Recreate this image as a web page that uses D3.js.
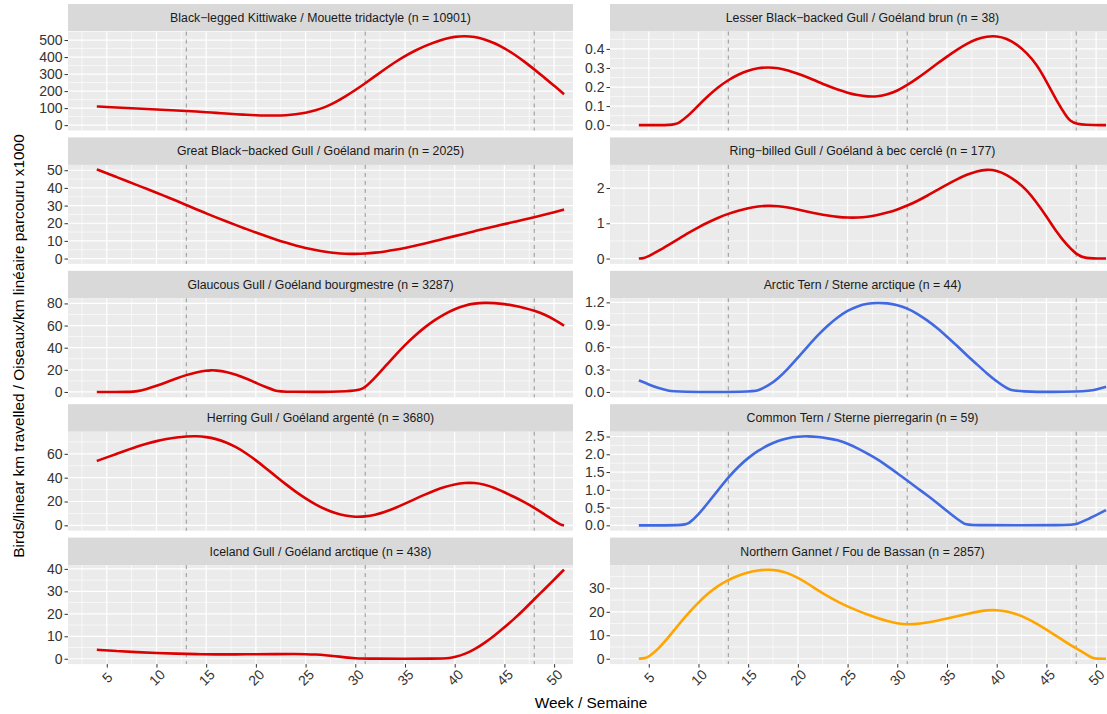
<!DOCTYPE html>
<html><head><meta charset="utf-8">
<script src="https://cdn.jsdelivr.net/npm/d3@7/dist/d3.min.js"></script>
<style>
body{margin:0;background:#fff;}
svg text{font-family:"Liberation Sans",Arial,Helvetica,sans-serif;}
</style>
</head><body>
<svg id="chart" width="1107" height="714"></svg>
<script>
// ---------- data ----------
const panelTitles = [
  "Black\u2212legged Kittiwake / Mouette tridactyle (n = 10901)",
  "Lesser Black\u2212backed Gull / Goéland brun (n = 38)",
  "Great Black\u2212backed Gull / Goéland marin (n = 2025)",
  "Ring\u2212billed Gull / Goéland à bec cerclé (n = 177)",
  "Glaucous Gull / Goéland bourgmestre (n = 3287)",
  "Arctic Tern / Sterne arctique (n = 44)",
  "Herring Gull / Goéland argenté (n = 3680)",
  "Common Tern / Sterne pierregarin (n = 59)",
  "Iceland Gull / Goéland arctique (n = 438)",
  "Northern Gannet / Fou de Bassan (n = 2857)"
];
const panelGroups = ["gull","gull","gull","gull","gull","tern","gull","tern","gull","gannet"];

const kittiwake = [[4,110],[5,107],[6,104],[7,101],[8,98],[9,95],[10,92],[11,89],[12,86],[13,83],[14,80],[15,76],[16,72],[17,68],[18,64],[19,61],[20,58],[21,56.5],[22,56],[23,58],[24,63],[25,72],[26,86],[27,106],[28,134],[29,168],[30,206],[31,246],[32,288],[33,330],[34,370],[35,406],[36,438],[37,465],[38,488],[39,507],[40,520],[41,524],[42,519],[43,505],[44,482],[45,452],[46,416],[47,374],[48,328],[49,280],[50,232],[51,182]];
const lesserBlackBacked = [[4,0],[7.5,0],[8,0.01],[9,0.05],[10,0.105],[11,0.155],[12,0.2],[13,0.237],[14,0.266],[15,0.287],[16,0.3],[17,0.304],[18,0.3],[19,0.288],[20,0.27],[21,0.25],[22,0.228],[23,0.206],[24,0.186],[25,0.17],[26,0.157],[27,0.15],[28,0.15],[29,0.16],[30,0.18],[31,0.21],[32,0.245],[33,0.283],[34,0.322],[35,0.36],[36,0.396],[37,0.428],[38,0.452],[39,0.466],[40,0.468],[41,0.455],[42,0.425],[43,0.38],[44,0.32],[45,0.23],[46,0.13],[47,0.045],[47.7,0],[51,0]];
const greatBlackBacked = [[4,50.5],[5,48.3],[6,46.1],[7,43.9],[8,41.7],[9,39.5],[10,37.3],[11,35],[12,32.7],[13,30.3],[14,27.9],[15,25.6],[16,23.3],[17,21.1],[18,18.9],[19,16.8],[20,14.7],[21,12.7],[22,10.8],[23,9],[24,7.4],[25,6],[26,4.8],[27,3.8],[28,3.1],[29,2.7],[30,2.6],[31,2.8],[32,3.3],[33,4],[34,4.9],[35,6],[36,7.2],[37,8.5],[38,9.9],[39,11.3],[40,12.7],[41,14.1],[42,15.5],[43,16.9],[44,18.2],[45,19.5],[46,20.8],[47,22.1],[48,23.4],[49,24.8],[50,26.2],[51,27.7]];
const ringBilled = [[4,0],[4.5,0.01],[5,0.07],[6,0.22],[7,0.39],[8,0.56],[9,0.73],[10,0.89],[11,1.03],[12,1.16],[13,1.27],[14,1.36],[15,1.43],[16,1.48],[17,1.5],[18,1.49],[19,1.45],[20,1.39],[21,1.33],[22,1.27],[23,1.22],[24,1.18],[25,1.16],[26,1.16],[27,1.18],[28,1.23],[29,1.3],[30,1.39],[31,1.5],[32,1.63],[33,1.78],[34,1.94],[35,2.1],[36,2.25],[37,2.38],[38,2.48],[39,2.53],[40,2.5],[41,2.38],[42,2.19],[43,1.95],[44,1.6],[45,1.2],[46,0.76],[47,0.4],[48,0.12],[48.8,0],[51,0]];
const glaucous = [[4,0],[7.5,0],[8,0.5],[9,2.5],[10,5.5],[11,8.8],[12,12.2],[13,15.3],[14,17.8],[15,19.3],[15.5,19.6],[16,19.5],[17,18.2],[18,15.6],[19,12.2],[20,8.3],[21,4.3],[22,1],[22.5,0],[30.2,0],[31,4],[32,13],[33,23],[34,33],[35,42.5],[36,51],[37,58.5],[38,65],[39,70.5],[40,75],[41,78.2],[42,80],[43,80.6],[44,80.4],[45,79.5],[46,78],[47,76],[48,73.5],[49,70.2],[50,65.5],[51,60]];
const arcticTern = [[4,0.155],[5,0.1],[6,0.05],[7,0.015],[7.6,0],[15.4,0],[16,0.02],[17,0.08],[18,0.18],[19,0.31],[20,0.46],[21,0.61],[22,0.76],[23,0.89],[24,1],[25,1.09],[26,1.15],[27,1.185],[28,1.195],[29,1.19],[30,1.165],[31,1.12],[32,1.05],[33,0.96],[34,0.86],[35,0.74],[36,0.62],[37,0.49],[38,0.37],[39,0.25],[40,0.14],[41,0.05],[41.7,0],[49,0],[50,0.03],[51,0.07]];
const herring = [[4,54],[5,57],[6,60],[7,63],[8,66],[9,68.5],[10,70.7],[11,72.5],[12,73.8],[13,74.6],[14,74.8],[15,74.2],[16,72.5],[17,69.7],[18,65.7],[19,60.6],[20,54.6],[21,48],[22,41.2],[23,34.5],[24,28.2],[25,22.5],[26,17.5],[27,13.3],[28,10.1],[29,8],[30,7],[31,7.3],[32,8.8],[33,11.3],[34,14.5],[35,18.2],[36,22],[37,25.8],[38,29.3],[39,32.3],[40,34.5],[41,35.7],[42,35.7],[43,34.3],[44,31.5],[45,27.8],[46,23.8],[47,19.5],[48,14.8],[49,9.5],[50,3.8],[50.7,0.3],[51,0]];
const commonTern = [[4,0],[8.5,0],[9,0.04],[10,0.3],[11,0.65],[12,1],[13,1.35],[14,1.65],[15,1.9],[16,2.1],[17,2.26],[18,2.38],[19,2.46],[20,2.5],[21,2.51],[22,2.49],[23,2.45],[24,2.4],[25,2.3],[26,2.17],[27,2.02],[28,1.86],[29,1.67],[30,1.47],[31,1.26],[32,1.05],[33,0.85],[34,0.63],[35,0.4],[36,0.18],[36.8,0.03],[37.2,0],[47.6,0],[48,0.03],[49,0.15],[50,0.29],[51,0.43]];
const iceland = [[4,4],[6,3.45],[8,2.95],[10,2.55],[12,2.25],[14,2.05],[16,1.95],[18,1.95],[20,2],[22,2.05],[24,2.1],[25,2.05],[26,1.9],[27,1.6],[28,1.15],[29,0.6],[30,0.2],[31,0],[38.7,0],[39.5,0.3],[40,0.8],[41,2],[42,4.2],[43,7],[44,10.3],[45,14],[46,17.8],[47,22],[48,26.5],[49,30.8],[50,35.2],[51,39.7]];
const gannet = [[4,0],[4.6,0.2],[5,0.8],[6,4.3],[7,9.3],[8,14.5],[9,19.5],[10,24],[11,28],[12,31.2],[13,33.6],[14,35.5],[15,36.8],[16,37.7],[17,38],[18,37.7],[19,36.5],[20,34.5],[21,32],[22,29.2],[23,26.6],[24,24.3],[25,22.3],[26,20.5],[27,18.8],[28,17.3],[29,16],[30,15],[31,14.6],[32,14.8],[33,15.4],[34,16.2],[35,17.1],[36,18.1],[37,19.1],[38,20],[39,20.7],[40,20.8],[41,20.2],[42,19],[43,17.3],[44,15],[45,12.4],[46,9.7],[47,7],[48,4.4],[49,1.9],[49.6,0.3],[50,0],[51,0]];

const panelSeries = [kittiwake, lesserBlackBacked, greatBlackBacked, ringBilled, glaucous, arcticTern, herring, commonTern, iceland, gannet];

const yTicks = [
  [0,100,200,300,400,500],
  [0,0.1,0.2,0.3,0.4],
  [0,10,20,30,40,50],
  [0,1,2],
  [0,20,40,60,80],
  [0,0.3,0.6,0.9,1.2],
  [0,20,40,60],
  [0,0.5,1,1.5,2,2.5],
  [0,10,20,30,40],
  [0,10,20,30]
];
const weekTicks = [5,10,15,20,25,30,35,40,45,50];
const seasonBreaks = [13,31,48];
const xLabel = "Week / Semaine";
const yLabel = "Birds/linear km travelled / Oiseaux/km linéaire parcouru x1000";

// ---------- layout / style ----------
const groupColor = {gull:"#DD0000", tern:"#4169E1", gannet:"#FFA500"};
const colX = [68, 610];
const PW = 505, STRIP_H = 27.5, PH = 99, ROW0 = 4, PITCH = 133.4;
const xDomain = [1.1, 51.9];

const svg = d3.select("#chart");
svg.append("rect").attr("width",1107).attr("height",714).attr("fill","#fff");

panelTitles.forEach((title, i) => {
  const col = i % 2, row = Math.floor(i / 2);
  const x0 = colX[col];
  const top = ROW0 + row * PITCH;
  const pTop = top + STRIP_H, pBot = pTop + PH;
  const data = panelSeries[i];
  const vmax = d3.max(data, d => d[1]);
  const x = d3.scaleLinear().domain(xDomain).range([x0, x0 + PW]);
  const y = d3.scaleLinear().domain([-0.06 * vmax, 1.05 * vmax]).range([pBot, pTop]);
  const g = svg.append("g");

  // strip
  g.append("rect").attr("x", x0).attr("y", top).attr("width", PW).attr("height", STRIP_H).attr("fill", "#D9D9D9");
  g.append("text").attr("x", x0 + PW / 2).attr("y", top + STRIP_H / 2).attr("dy", "0.35em")
    .attr("text-anchor", "middle").attr("font-size", "12.3px").attr("fill", "#1A1A1A").text(title);

  // panel
  g.append("rect").attr("x", x0).attr("y", pTop).attr("width", PW).attr("height", PH).attr("fill", "#EBEBEB");

  const ticks = yTicks[i];
  const step = ticks[1] - ticks[0];
  const [d0, d1] = y.domain();
  const minorY = [];
  for (let v = ticks[0] - step / 2; v <= d1; v += step) if (v >= d0) minorY.push(v);
  g.selectAll(null).data(minorY).enter().append("line")
    .attr("x1", x0).attr("x2", x0 + PW).attr("y1", d => y(d)).attr("y2", d => y(d))
    .attr("stroke", "#fff").attr("stroke-width", 0.6);
  const minorX = [];
  for (let v = 2.5; v <= xDomain[1]; v += 5) if (v >= xDomain[0]) minorX.push(v);
  g.selectAll(null).data(minorX).enter().append("line")
    .attr("y1", pTop).attr("y2", pBot).attr("x1", d => x(d)).attr("x2", d => x(d))
    .attr("stroke", "#fff").attr("stroke-width", 0.6);
  g.selectAll(null).data(ticks).enter().append("line")
    .attr("x1", x0).attr("x2", x0 + PW).attr("y1", d => y(d)).attr("y2", d => y(d))
    .attr("stroke", "#fff").attr("stroke-width", 1.2);
  g.selectAll(null).data(weekTicks).enter().append("line")
    .attr("y1", pTop).attr("y2", pBot).attr("x1", d => x(d)).attr("x2", d => x(d))
    .attr("stroke", "#fff").attr("stroke-width", 1.2);

  // season breaks
  g.selectAll(null).data(seasonBreaks).enter().append("line")
    .attr("y1", pTop).attr("y2", pBot).attr("x1", d => x(d)).attr("x2", d => x(d))
    .attr("stroke", "#8C8C8C").attr("stroke-width", 0.9).attr("stroke-dasharray", "4,4");

  // curve
  g.append("path").datum(data)
    .attr("d", d3.line().x(d => x(d[0])).y(d => y(d[1])).curve(d3.curveBasis))
    .attr("fill", "none").attr("stroke", groupColor[panelGroups[i]]).attr("stroke-width", 2.6);

  // y axis
  const dec = step < 1 ? 1 : 0;
  const yAxis = d3.axisLeft(y).tickValues(ticks).tickSize(3.5).tickPadding(2)
    .tickFormat(d3.format("." + dec + "f"));
  const ya = g.append("g").attr("transform", `translate(${x0},0)`).call(yAxis);
  ya.select(".domain").remove();
  ya.selectAll(".tick line").attr("stroke", "#333");
  ya.selectAll(".tick text").attr("fill", "#333").attr("font-size", "14px")
    .attr("font-family", "Liberation Sans, Arial, sans-serif");

  if (row === 4) {
    const xAxis = d3.axisBottom(x).tickValues(weekTicks).tickSize(3.5).tickFormat(d3.format("d"));
    const xa = g.append("g").attr("transform", `translate(0,${pBot})`).call(xAxis);
    xa.select(".domain").remove();
    xa.selectAll(".tick line").attr("stroke", "#333");
    xa.selectAll(".tick text").attr("fill", "#333").attr("font-size", "14px")
      .attr("font-family", "Liberation Sans, Arial, sans-serif")
      .attr("x", 0).attr("y", 0).attr("dy", "0.35em")
      .attr("text-anchor", "middle")
      .attr("transform", "translate(0,13.5) rotate(-45)");
  }
});

svg.append("text").attr("x", 591).attr("y", 702.5).attr("dy", "0.35em")
  .attr("text-anchor", "middle").attr("font-size", "15.4px").attr("fill", "#000").text(xLabel);
svg.append("text").attr("transform", "translate(19,346) rotate(-90)").attr("dy", "0.35em")
  .attr("text-anchor", "middle").attr("font-size", "15.4px").attr("fill", "#000").text(yLabel);
</script>
</body></html>
